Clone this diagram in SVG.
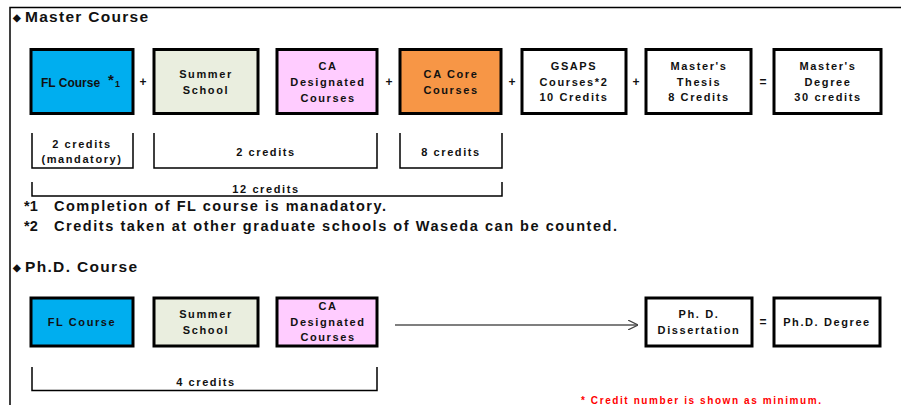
<svg xmlns="http://www.w3.org/2000/svg" width="901" height="405" viewBox="0 0 901 405">
<defs>
<style>
.t{font-family:"Liberation Sans",Arial,sans-serif;font-weight:bold;fill:#111;}
.bx{font-size:11px;letter-spacing:1.6px;text-anchor:middle;}
.box{stroke:#000;stroke-width:3;}
.op{font-size:12px;text-anchor:middle;}
.br{fill:none;stroke:#000;stroke-width:1.5;}
.ttl{font-size:15.5px;}
.fn{font-size:14.5px;}
.dm{font-size:10px;}
</style>
<marker id="ah" viewBox="0 0 10 10" refX="10" refY="5" markerWidth="10" markerHeight="10" markerUnits="userSpaceOnUse" orient="auto">
<path d="M0,0 L10,5 L0,10" fill="none" stroke="#444" stroke-width="1.2"/>
</marker>
</defs>
<rect width="901" height="405" fill="#fff"/>
<path d="M10,405 V7.5 H901" fill="none" stroke="#000" stroke-width="1.5"/>

<text class="t ttl" y="22"><tspan class="dm" x="13" y="21">◆</tspan><tspan x="25" y="22" textLength="123" lengthAdjust="spacing">Master Course</tspan></text>

<g id="m-fl"><rect class="box" x="31" y="49.5" width="102" height="64" fill="#00AEEF"/>
<text class="t" x="41" y="87" font-size="12">FL Course<tspan x="108" font-size="15" dy="-2">*</tspan><tspan x="115" font-size="9" dy="2">1</tspan></text></g>
<text class="t op" x="143" y="86">+</text>
<g id="m-summer"><rect class="box" x="154" y="49.5" width="104" height="64" fill="#EAEEDF"/>
<text class="t bx" x="206" y="78">Summer</text><text class="t bx" x="206" y="94">School</text></g>
<g id="m-ca"><rect class="box" x="277" y="49.5" width="100" height="64" fill="#FFCCFF"/>
<text class="t bx" x="328" y="70">CA</text><text class="t bx" x="328" y="86">Designated</text><text class="t bx" x="328" y="102">Courses</text></g>
<text class="t op" x="389" y="86">+</text>
<g id="m-core"><rect class="box" x="400" y="49.5" width="101" height="64" fill="#F79646"/>
<text class="t bx" x="451" y="78">CA Core</text><text class="t bx" x="451" y="94">Courses</text></g>
<text class="t op" x="512" y="86">+</text>
<g id="m-gsaps"><rect class="box" x="522" y="49.5" width="104" height="64" fill="#fff"/>
<text class="t bx" x="574" y="70">GSAPS</text><text class="t bx" x="574" y="86">Courses*2</text><text class="t bx" x="574" y="101">10 Credits</text></g>
<text class="t op" x="636" y="86">+</text>
<g id="m-thesis"><rect class="box" x="646" y="49.5" width="105" height="64" fill="#fff"/>
<text class="t bx" x="699" y="70">Master's</text><text class="t bx" x="699" y="86">Thesis</text><text class="t bx" x="699" y="101">8 Credits</text></g>
<text class="t op" x="763" y="86">=</text>
<g id="m-degree"><rect class="box" x="774" y="49.5" width="107" height="64" fill="#fff"/>
<text class="t bx" x="828" y="70">Master's</text><text class="t bx" x="828" y="86">Degree</text><text class="t bx" x="828" y="101">30 credits</text></g>

<g id="brackets">
<path class="br" d="M32,133 V168 H133 V133"/>
<path class="br" d="M154,133 V168 H377 V133"/>
<path class="br" d="M400,133 V168 H502 V133"/>
<path class="br" d="M32,182 V196 H502 V182"/>
<path class="br" d="M32,367 V390.5 H377 V367"/>
</g>
<text class="t bx" x="82" y="148" letter-spacing="1.9">2 credits</text>
<text class="t bx" x="82" y="163" letter-spacing="2.4">(mandatory)</text>
<text class="t bx" x="266" y="156" letter-spacing="1.9">2 credits</text>
<text class="t bx" x="451" y="156" letter-spacing="1.9">8 credits</text>
<text class="t bx" x="266" y="193" letter-spacing="1.9">12 credits</text>
<text class="t fn" y="211"><tspan x="24">*1</tspan><tspan x="54" textLength="332" lengthAdjust="spacing">Completion of FL course is manadatory.</tspan></text>
<text class="t fn" y="231"><tspan x="24">*2</tspan><tspan x="54" textLength="563" lengthAdjust="spacing">Credits taken at other graduate schools of Waseda can be counted.</tspan></text>

<text class="t ttl" y="272"><tspan class="dm" x="13" y="271">◆</tspan><tspan x="25" y="272" textLength="112" lengthAdjust="spacing">Ph.D. Course</tspan></text>

<g id="p-fl"><rect class="box" x="31" y="298" width="102" height="48" fill="#00AEEF"/>
<text class="t bx" x="82" y="326">FL Course</text></g>
<g id="p-summer"><rect class="box" x="154" y="298" width="104" height="48" fill="#EAEEDF"/>
<text class="t bx" x="206" y="318">Summer</text><text class="t bx" x="206" y="334">School</text></g>
<g id="p-ca"><rect class="box" x="277" y="298" width="100" height="48" fill="#FFCCFF"/>
<text class="t bx" x="328" y="310">CA</text><text class="t bx" x="328" y="326">Designated</text><text class="t bx" x="328" y="341">Courses</text></g>
<g id="connectors"><line x1="395" y1="325" x2="638" y2="325" stroke="#555" stroke-width="1.3" marker-end="url(#ah)"/></g>
<g id="p-diss"><rect class="box" x="646" y="298" width="106" height="48" fill="#fff"/>
<text class="t bx" x="699" y="318">Ph. D.</text><text class="t bx" x="699" y="334">Dissertation</text></g>
<text class="t op" x="763" y="326">=</text>
<g id="p-degree"><rect class="box" x="774" y="298" width="106" height="48" fill="#fff"/>
<text class="t bx" x="827" y="326">Ph.D. Degree</text></g>
<text class="t bx" x="206" y="386" letter-spacing="1.9">4 credits</text>

<text class="t" x="581" y="404" font-size="10" textLength="240" lengthAdjust="spacing" style="fill:#f00">* Credit number is shown as minimum.</text>
</svg>
